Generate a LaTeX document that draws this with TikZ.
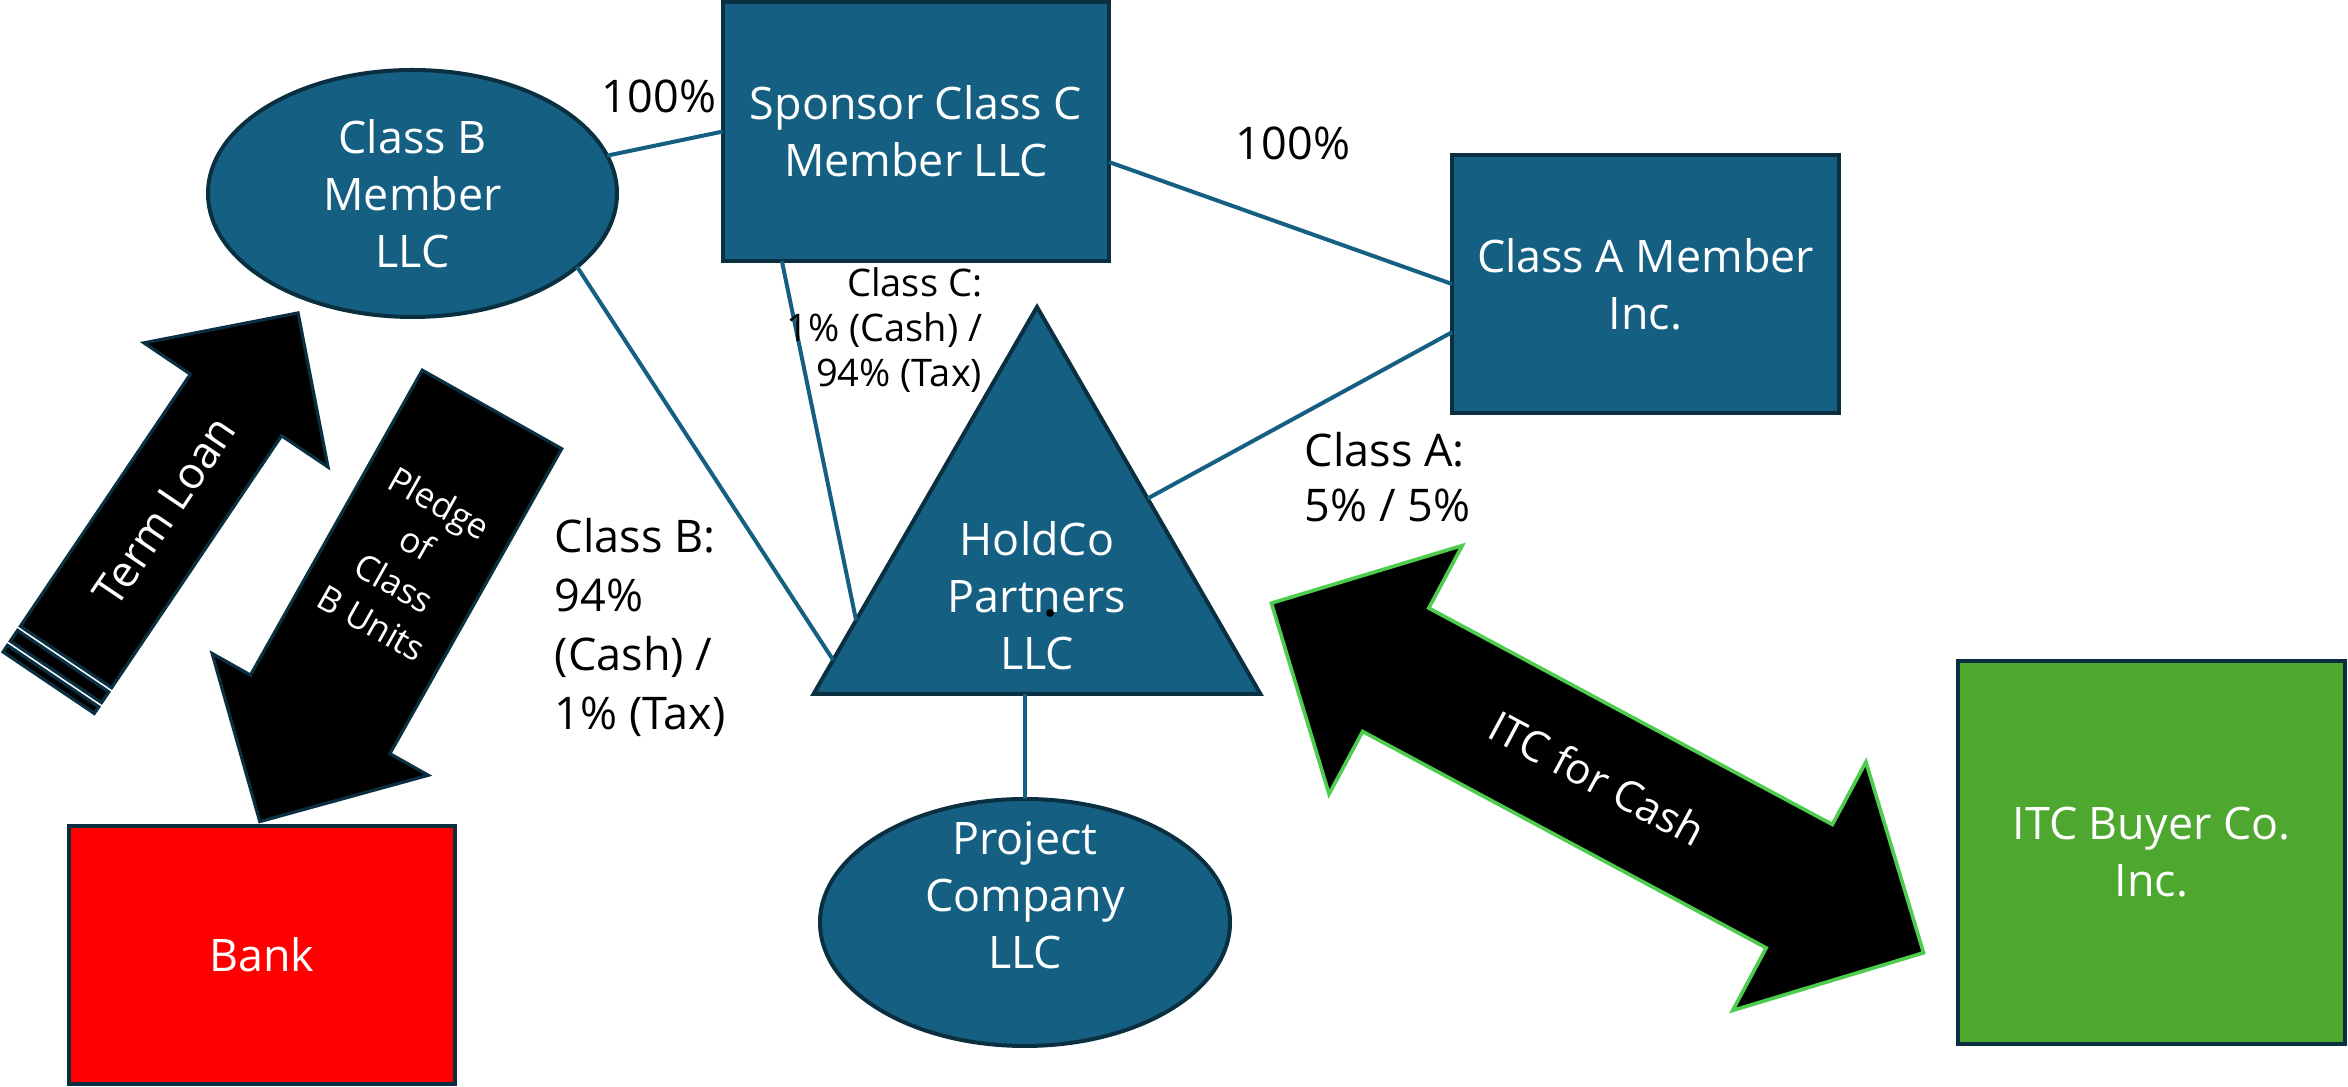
\documentclass[tikz,border=0pt]{standalone}
\usepackage{fontspec}
\setmainfont{Open Sans}
\usetikzlibrary{shapes.geometric}

\definecolor{nodefill}{HTML}{156082}
\definecolor{nodeline}{HTML}{0A2F41}
\definecolor{linkcol}{HTML}{156082}
\definecolor{bankred}{HTML}{FF0000}
\definecolor{buyergreen}{HTML}{4EA72E}
\definecolor{swapgreen}{HTML}{4DCC4D}

\newcommand\entfont{\fontsize{11.2}{14.3}\selectfont}
\newcommand\lblfont{\fontsize{11.25}{14.75}\selectfont}
\newcommand\clsfont{\fontsize{9.5}{11.25}\selectfont}
\newcommand\arrfont{\fontsize{10.6}{12.5}\selectfont}
\newcommand\loanfont{\fontsize{11}{13}\selectfont}
\newcommand\pledgefont{\fontsize{8.75}{11.5}\selectfont}

\begin{document}
\begin{tikzpicture}[
  x=0.25pt, y=-0.25pt,
  entity/.style={draw=nodeline, fill=nodefill, line width=1pt, text=white,
    font=\entfont, align=center, inner sep=0pt, outer sep=0pt},
  boxnode/.style={entity, rectangle},
  ovalnode/.style={entity, ellipse},
  intext/.style={text=white, font=\entfont, align=center, inner sep=0pt},
  link/.style={draw=linkcol, line width=1pt},
  pct/.style={font=\lblfont, text=black, inner sep=0pt},
  bigarrow/.style={fill=black, draw=nodeline, line width=0.8pt, line join=miter},
  swaparrow/.style={fill=black, draw=swapgreen, line width=0.9pt, line join=miter},
  arrtext/.style={text=white, inner sep=0pt, align=center},
]
\path[use as bounding box] (0,0) rectangle (2348,1087);

% entities
\node[boxnode, minimum width=96.5pt, minimum height=64.75pt] (sp) at (916,131.5)
  {Sponsor Class C\\Member LLC};
\node[boxnode, minimum width=96.75pt, minimum height=64.5pt] (ca) at (1645.5,284)
  {Class A Member\\Inc.};
\node[ovalnode, minimum width=102.25pt, minimum height=61.75pt] (cb) at (412.5,193.5)
  {Class B\\Member\\LLC};
\node[entity, regular polygon, regular polygon sides=3, minimum size=129pt] (hc) at (1037,565) {};
\node[intext] (hctext) at (1037,596) {HoldCo\\Partners\\LLC};
\fill[black] (1050,613) circle[radius=1pt];
\node[ovalnode, minimum width=102.5pt, minimum height=61.75pt] (pc) at (1025,922.5) {};
\node[intext] (pctext) at (1025,895) {Project\\Company\\LLC};
\node[boxnode, fill=bankred, minimum width=96.5pt, minimum height=64.5pt] (bank) at (262,955) {Bank};
\node[boxnode, fill=buyergreen, minimum width=96.75pt, minimum height=95.75pt] (buyer) at (2151.5,852.5)
  {ITC Buyer Co.\\Inc.};

% ownership links
\draw[link] (cb.11) -- (sp.west);
\draw[link] (sp.-9) -- (ca.west);
\draw[link] (ca.194) -- (hc.31);
\draw[link] (sp.-136) -- (hc.197);
\draw[link] (cb.-24) -- (hc.205);
\draw[link] (pc.north |- hc.south) -- (pc.north);

% percentage labels
\node[pct] (p1) at (659,96) {100\%};
\node[pct] (p2) at (1293,143) {100\%};
\node[pct, font=\clsfont, anchor=east, align=right] (lc) at (983,330)
  {Class C:\\1\% (Cash) /\\94\% (Tax)};
\node[pct, anchor=west, align=left] (lb) at (554,627)
  {Class B:\\94\%\\(Cash) /\\1\% (Tax)};
\node[pct, font=\fontsize{11.25}{13.75}\selectfont, anchor=west, align=left] (la) at (1304,477)
  {Class A:\\5\% / 5\%};

% term loan arrow with striped tail
\begin{scope}[shift={(66,657)}, rotate=56]
  \draw[bigarrow] (0,-55) -- (304,-55) -- (304,-111) -- (415,0) -- (304,111)
    -- (304,55) -- (0,55) -- cycle;
  \draw[bigarrow] (-5,-55) rectangle (-18,55);
  \draw[bigarrow] (-23,-55) rectangle (-31,55);
  \node[arrtext, rotate=56, font=\loanfont] (tl) at (176,0) {Term Loan};
\end{scope}

% pledge arrow towards the bank
\begin{scope}[shift={(492,409.5)}, rotate=-119.4]
  \draw[bigarrow] (0,-80) -- (350,-80) -- (350,-124) -- (473,0) -- (350,124)
    -- (350,80) -- (0,80) -- cycle;
  \node[arrtext, rotate=-29.4, font=\pledgefont] (pl) at (176,0)
    {Pledge\\of\\Class\\B Units};
\end{scope}

% two-way exchange arrow
\begin{scope}[shift={(1597.5,778)}, rotate=-28.2]
  \draw[swaparrow] (-370,0) -- (-229,-141) -- (-229,-70) -- (229,-70) -- (229,-141)
    -- (370,0) -- (229,141) -- (229,70) -- (-229,70) -- (-229,141) -- cycle;
  \node[arrtext, rotate=-28.2, font=\arrfont] (itc) at (0,0) {ITC for Cash};
\end{scope}
\end{tikzpicture}
\end{document}
